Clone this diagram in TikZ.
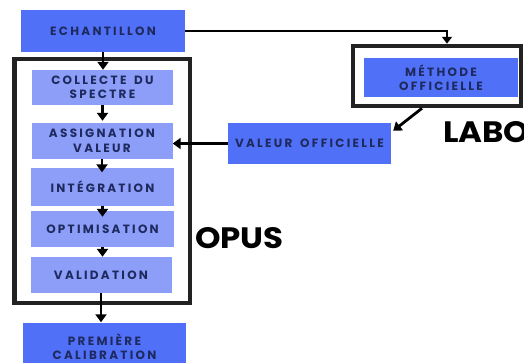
\documentclass[tikz,border=0pt]{standalone}
\usepackage{fontspec}
\usetikzlibrary{arrows.meta,calc}
\newfontfamily\boxfont[LetterSpace=19,WordSpace=1.6]{Poppins}
\newfontfamily\bigfont[FakeStretch=1.1]{Poppins}
\definecolor{bright}{HTML}{5170F8}
\definecolor{light}{HTML}{8C9EF8}
\definecolor{ink}{HTML}{1E2A5E}
\definecolor{framec}{HTML}{222222}
\tikzset{
  basebox/.style={rectangle, inner sep=0pt, align=center, text=ink,
    font=\boxfont\bfseries\fontsize{12}{14.5}\selectfont},
  brightbox/.style={basebox, fill=bright},
  lightbox/.style={basebox, fill=light},
  framebox/.style={rectangle, draw=framec, line width=4.5pt, inner sep=0pt},
  arr/.style={draw=black, line width=2.8pt, -{Triangle[width=11pt,length=8pt]}},
  thinarr/.style={draw=black, line width=2.4pt, -{Triangle[width=10pt,length=7pt]}},
  bigtext/.style={inner sep=0pt, anchor=base west, text=black,
    font=\bigfont\bfseries\fontsize{29.5}{31}\selectfont}
}
\begin{document}
\begin{tikzpicture}[x=1pt,y=-1pt]
\useasboundingbox (0,0) rectangle (524,362);
\clip (0,0) rectangle (524,362);
% frames
\node[framebox, minimum width=175.5pt, minimum height=244pt] (opusframe) at (102,181) {};
\node[framebox, minimum width=168pt, minimum height=60pt] (laboframe) at (437,76) {};
% boxes
\node[brightbox, minimum width=164pt, minimum height=42pt] (ech) at (103,31) {ECHANTILLON};
\node[lightbox, minimum width=141pt, minimum height=35pt] (col) at (102.5,87.5) {COLLECTE DU\\SPECTRE};
\node[lightbox, minimum width=141pt, minimum height=36pt] (ass) at (102,141) {ASSIGNATION\\VALEUR};
\node[lightbox, minimum width=143pt, minimum height=38pt] (int) at (102.5,186.5) {INTÉGRATION};
\node[lightbox, minimum width=143pt, minimum height=36pt] (opt) at (102.5,229) {OPTIMISATION};
\node[lightbox, minimum width=141pt, minimum height=36pt] (val) at (101,275) {VALIDATION};
\node[brightbox, minimum width=163pt, minimum height=48pt] (prem) at (104.5,346.5) {PREMIÈRE\\CALIBRATION};
\node[brightbox, minimum width=154pt, minimum height=39pt] (met) at (441,77.5) {MÉTHODE\\OFFICIELLE};
\node[brightbox, minimum width=163pt, minimum height=41pt] (vo) at (309.5,143.5) {VALEUR OFFICIELLE};
% labels
\node[bigtext] (opus) at (195,248) {OPUS};
\node[bigtext] (labo) at (443,142) {LABO};
% connectors
\coordinate (corner) at (447,31);
\draw[thinarr] (ech.east) -- (corner) -- (corner |- laboframe.north);
\draw[arr] (ech.south) -- (ech.south |- col.north);
\draw[arr] (col.south) -- ($(col.south |- ass.north)+(0,-2)$);
\draw[arr] (ass.south) -- ($(ass.south |- int.north)+(0,5)$);
\draw[arr] (int.south) -- ($(int.south |- opt.north)+(0,6)$);
\draw[arr] (opt.south) -- (opt.south |- val.north);
\draw[arr] (val.south) -- (val.south |- prem.north);
\draw[arr] ($(laboframe.south)+(-15,0)$) -- ($(vo.north east)+(2,8)$);
\draw[arr] (vo.west) -- (ass.east |- vo.west);
\end{tikzpicture}
\end{document}
